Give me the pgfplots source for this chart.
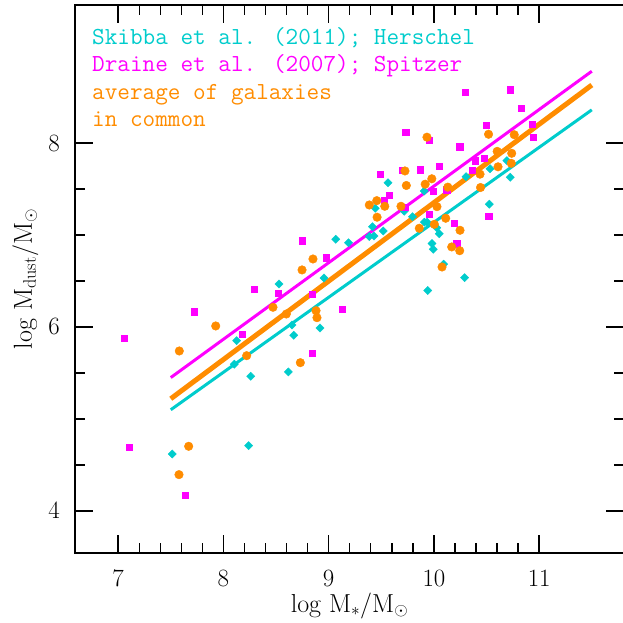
\documentclass[border=0pt]{standalone}
\usepackage{fontspec}
\usepackage{pgfplots}
\pgfplotsset{compat=1.18}
\definecolor{cy}{RGB}{0,204,204}
\definecolor{mg}{RGB}{255,0,255}
\definecolor{og}{RGB}{255,140,0}
\begin{document}
\begin{tikzpicture}
\begin{axis}[
  scale only axis, width=549pt, height=548pt,
  xmin=6.59, xmax=11.806, ymin=3.543, ymax=9.5,
  axis line style={line width=1.6pt},
  major tick style={line width=1.4pt, black},
  minor tick style={line width=1.4pt, black},
  tick align=inside,
  major tick length=18pt, minor tick length=10pt,
  xtick={7,8,9,10,11}, minor x tick num=4,
  ytick={4,6,8}, minor y tick num=3,
  tick label style={font=\fontsize{26}{26}\selectfont},
  xticklabel style={inner sep=0pt, anchor=north, yshift=-17pt},
  yticklabel style={inner sep=0pt, anchor=east, xshift=-15pt},
  xlabel={log M$_\ast$/M$_\odot$},
  ylabel={log M$_{\mathrm{dust}}$/M$_\odot$},
  label style={font=\fontsize{26}{26}\selectfont},
  xlabel style={at={(axis description cs:0.5,-0.1077)}, anchor=base, inner sep=0pt},
  ylabel style={at={(axis description cs:-0.0785,0.5)}, anchor=base, inner sep=0pt},
  clip=false,
]
% Skibba et al. (2011); Herschel
\addplot[only marks, color=cy, mark=square*, mark size=2.9pt, mark options={rotate=45, draw=cy, fill=cy}] coordinates {
(7.514,4.620) (8.240,4.710) (8.104,5.595) (8.126,5.851) (8.259,5.464)
(8.617,5.511) (8.652,6.022) (8.668,5.910) (8.918,5.989) (8.528,6.467)
(8.956,6.533) (9.067,6.953) (9.189,6.915) (9.386,6.984) (9.431,6.989)
(9.417,7.089) (9.519,7.043) (9.442,7.290) (9.564,7.568) (9.718,7.259)
(9.797,7.198) (9.909,7.478) (9.909,7.139) (9.936,7.139) (9.941,6.397)
(9.982,6.908) (9.993,6.845) (10.027,7.079) (10.051,7.013) (10.093,6.683)
(10.291,6.536) (10.305,7.634) (10.526,7.335) (10.533,7.721) (10.693,7.808)
(10.725,7.628)
};
% Draine et al. (2007); Spitzer
\addplot[only marks, color=mg, mark=square*, mark size=3.3pt, mark options={draw=mg, fill=mg}] coordinates {
(7.058,5.877) (7.106,4.692) (7.638,4.171) (7.723,6.166) (8.180,5.921)
(8.294,6.410) (8.522,6.366) (8.845,6.355) (8.845,5.714) (9.130,6.192)
(8.747,6.935) (8.975,6.750) (9.491,7.660) (9.526,7.380) (9.576,7.432)
(9.697,7.703) (9.732,8.116) (9.725,7.301) (9.871,7.710) (9.956,8.029)
(9.956,7.225) (9.994,7.475) (10.051,7.747) (10.122,7.489) (10.194,7.127)
(10.217,6.902) (10.245,7.960) (10.298,8.551) (10.365,7.703) (10.393,7.810)
(10.479,7.835) (10.498,8.192) (10.521,7.203) (10.726,8.576) (10.830,8.377)
(10.935,8.204) (10.944,8.063)
};
% average of galaxies in common
\addplot[only marks, color=og, mark=*, mark size=4.3pt, mark options={draw=og, fill=og}] coordinates {
(7.578,4.395) (7.670,4.703) (7.581,5.739) (7.927,6.011) (8.221,5.688)
(8.471,6.214) (8.598,6.141) (8.731,5.612) (8.880,6.177) (8.889,6.101)
(8.747,6.620) (8.851,6.739) (9.386,7.326) (9.457,7.373) (9.460,7.193)
(9.533,7.312) (9.687,7.312) (9.725,7.696) (9.738,7.538) (9.861,7.073)
(9.917,7.552) (9.934,8.063) (9.980,7.611) (10.004,7.116) (10.029,7.308)
(10.077,6.652) (10.112,7.182) (10.132,7.520) (10.169,6.870) (10.245,6.829)
(10.248,7.051) (10.438,7.661) (10.443,7.516) (10.519,8.095) (10.601,7.909)
(10.609,7.741) (10.735,7.779) (10.739,7.888) (10.763,8.090)
};
\addplot[mg, line width=3pt] coordinates {(7.5,5.45) (11.5,8.78)};
\addplot[og, line width=5pt] coordinates {(7.5,5.22) (11.5,8.63)};
\addplot[cy, line width=3pt] coordinates {(7.5,5.10) (11.5,8.36)};
\node[anchor=base west, inner sep=0pt, font=\ttfamily\fontsize{24.5}{24.5}\selectfont, text=cy] at (rel axis cs:0.031,0.9288) {Skibba et al. (2011); Herschel};
\node[anchor=base west, inner sep=0pt, font=\ttfamily\fontsize{24.5}{24.5}\selectfont, text=mg] at (rel axis cs:0.031,0.8783) {Draine et al. (2007); Spitzer};
\node[anchor=base west, inner sep=0pt, font=\ttfamily\fontsize{24.5}{24.5}\selectfont, text=og] at (rel axis cs:0.031,0.8279) {average of galaxies};
\node[anchor=base west, inner sep=0pt, font=\ttfamily\fontsize{24.5}{24.5}\selectfont, text=og] at (rel axis cs:0.031,0.7779) {in common};
\end{axis}
\pgfresetboundingbox
\path[use as bounding box] (-75pt,-70pt) rectangle (548pt,553pt);
\end{tikzpicture}
\end{document}
